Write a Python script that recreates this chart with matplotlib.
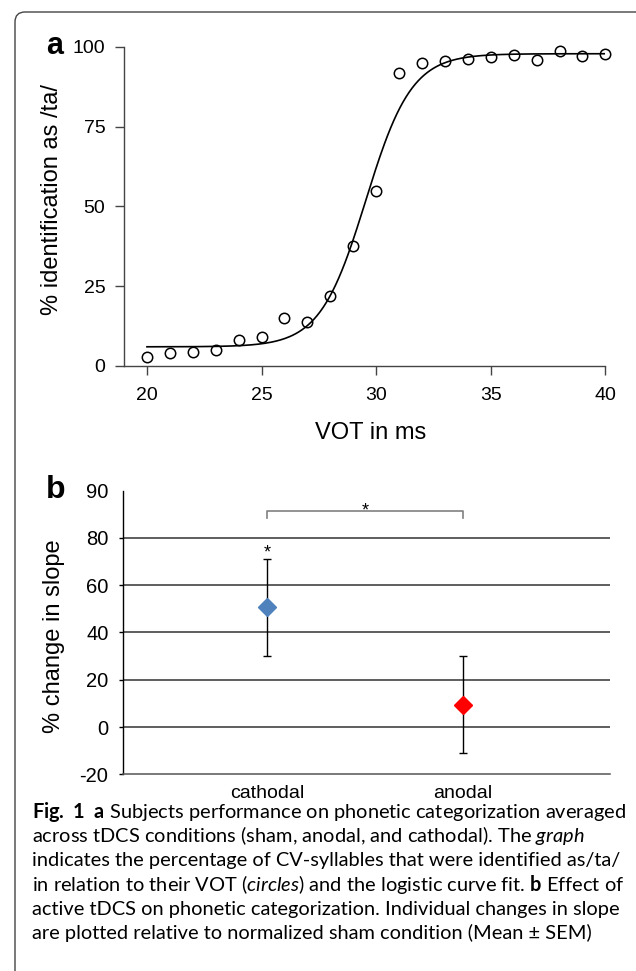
import matplotlib
matplotlib.use("Agg")
import matplotlib.pyplot as plt
import numpy as np
from matplotlib import font_manager
from matplotlib.patches import FancyBboxPatch

# Panel a: identification of /ta/ against VOT
vot_ms = list(range(20, 41))
ident_ta = [2.7, 4.2, 4.4, 5.0, 8.1, 9.0, 14.9, 13.8, 21.9, 37.5, 54.7,
            91.8, 94.8, 95.6, 96.3, 96.9, 97.5, 95.8, 98.5, 97.2, 97.7]
# logistic fit parameters
fit_lower = 6.0
fit_upper = 97.8
fit_mid = 29.55
fit_slope = 1.0

# Panel b: change in slope per condition
conditions = ["cathodal", "anodal"]
slope_change = [50.6, 9.4]
slope_sem = [20.6, 20.6]
cond_colors = ["#4F81BD", "#FF0000"]
b_ticks = [-20, 0, 20, 40, 60, 80, 100]
b_ticklabels = ["-20", "0", "20", "40", "60", "80", "90"]
b_grid = [0, 20, 40, 60, 80]

names = {f.name for f in font_manager.fontManager.ttflist}
cap_font = "Liberation Sans Narrow" if "Liberation Sans Narrow" in names else "Lato"
plt.rcParams["font.family"] = "Liberation Sans"
plt.rcParams["mathtext.fontset"] = "custom"
plt.rcParams["mathtext.rm"] = cap_font
plt.rcParams["mathtext.it"] = cap_font + ":italic"
plt.rcParams["mathtext.bf"] = cap_font + ":bold"

fig = plt.figure(figsize=(6.36, 9.71), dpi=100)

# rounded frame around the figure (runs off the right and bottom edges)
frame = FancyBboxPatch((0.15, -1.0), 7.0, 9.71 - 0.12 + 1.0,
                       boxstyle="round,pad=0,rounding_size=0.1",
                       transform=fig.dpi_scale_trans, fill=False,
                       edgecolor="#444444", lw=1.0)
fig.patches.append(frame)

# ---- panel a ----
ax1 = fig.add_axes([0.195, 0.6231, 0.7568, 0.3288])
xs = np.linspace(20, 40, 300)
curve = fit_lower + (fit_upper - fit_lower) / (1 + np.exp(-fit_slope * (xs - fit_mid)))
ax1.plot(xs, curve, color="black", lw=1.2)
ax1.plot(vot_ms, ident_ta, "o", mfc="none", mec="black", ms=7.5, mew=1.1,
         ls="none", clip_on=False)
ax1.set_xlim(19.0, 40)
ax1.set_ylim(0, 100)
ax1.set_xticks([20, 25, 30, 35, 40])
ax1.set_yticks([0, 25, 50, 75, 100])
for s in ["top", "right"]:
    ax1.spines[s].set_visible(False)
for s in ["left", "bottom"]:
    ax1.spines[s].set_color("#444444")
    ax1.spines[s].set_linewidth(1.0)
ax1.tick_params(axis="both", direction="out", length=6.5, width=1.0,
                color="#444444", labelsize=14)
ax1.tick_params(axis="y", pad=7)
ax1.tick_params(axis="x", pad=8.5)
ax1.set_xlabel("VOT in ms", fontsize=17)
ax1.xaxis.set_label_coords(0.5125, -0.175)
ax1.set_ylabel("% identification as /ta/", fontsize=17)
ax1.yaxis.set_label_coords(-0.127, 0.52)
fig.text(46 / 636, 1 - 46 / 971, "a", fontsize=22, fontweight="bold",
         ha="left", va="center")

# ---- panel b ----
ax2 = fig.add_axes([0.1934, 0.2026, 0.7665, 0.2921])
ax2.set_xlim(-0.737, 1.756)
ax2.set_ylim(-20, 100)
ax2.hlines(b_grid, -0.737, 1.756, color="#333333", lw=1.1, zorder=1)
for i, cond in enumerate(conditions):
    ax2.errorbar(i, slope_change[i], yerr=slope_sem[i], fmt="none",
                 ecolor="black", elinewidth=1.0, capsize=3, capthick=1.0, zorder=2)
    ax2.plot(i, slope_change[i], "D", color=cond_colors[i], ms=9, zorder=3)
ax2.set_xticks(range(len(conditions)))
ax2.set_xticklabels(conditions)
ax2.set_yticks(b_ticks)
ax2.set_yticklabels(b_ticklabels)
ax2.yaxis.get_major_ticks()[-1].tick1line.set_visible(False)
for s in ["top", "right"]:
    ax2.spines[s].set_visible(False)
ax2.spines["left"].set_color("black")
ax2.spines["bottom"].set_color("#555555")
ax2.spines["left"].set_linewidth(1.0)
ax2.spines["bottom"].set_linewidth(1.1)
ax2.tick_params(axis="y", direction="out", length=3, width=1.0, labelsize=14.5, pad=7.5)
ax2.tick_params(axis="x", length=0, labelsize=14, pad=7.5)
ax2.set_ylabel("% change in slope", fontsize=17)
ax2.yaxis.set_label_coords(-0.119, 0.486)

# significance marks
ax2.plot([0, 0, 1, 1], [88.5, 91.3, 91.3, 88.5], color="#808080", lw=1.2, clip_on=False)
ax2.text(0.5, 89.6, "*", fontsize=13, ha="center", va="baseline")
ax2.text(0, 71.7, "*", fontsize=13, ha="center", va="baseline")
fig.text(46 / 636, 1 - 490 / 971, "b", fontsize=23, fontweight="bold",
         ha="left", va="center")

# ---- caption ----
caption = [
    r"$\mathbf{Fig.\ 1}$  $\mathbf{a}$ Subjects performance on phonetic categorization averaged",
    r"across tDCS conditions (sham, anodal, and cathodal). The $\mathit{graph}$",
    "indicates the percentage of CV-syllables that were identified as/ta/",
    r"in relation to their VOT ($\mathit{circles}$) and the logistic curve fit. $\mathbf{b}$ Effect of",
    "active tDCS on phonetic categorization. Individual changes in slope",
    "are plotted relative to normalized sham condition (Mean \u00b1 SEM)",
]
for k, line in enumerate(caption):
    fig.text(32 / 636, 1 - (818 + 24.2 * k) / 971, line, fontsize=14.4,
             family=cap_font, ha="left", va="baseline")

fig.savefig("out.png", dpi=100)
